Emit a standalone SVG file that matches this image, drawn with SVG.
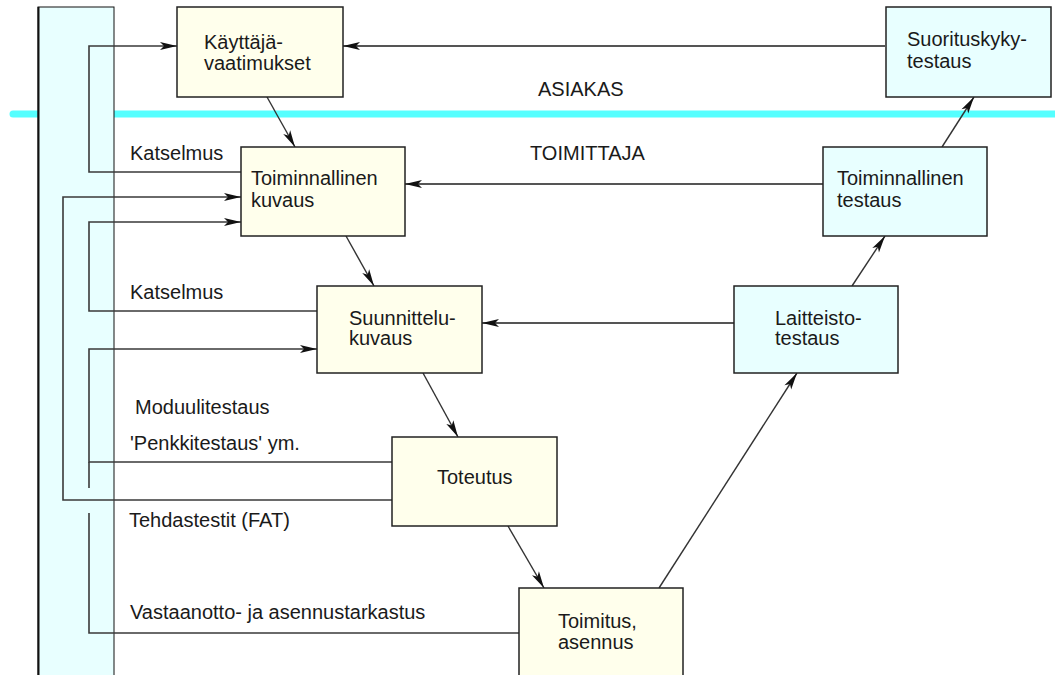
<svg xmlns="http://www.w3.org/2000/svg" width="1055" height="675" viewBox="0 0 1055 675">
  <style>
    text { font-family: "Liberation Sans", Arial, sans-serif; font-size: 20px; fill: #1a1a1a; }
    .dev { fill: #ffffec; stroke: #222; stroke-width: 1.5; }
    .tst { fill: #e8ffff; stroke: #222; stroke-width: 1.5; }
    .ln { fill: none; stroke: #333; stroke-width: 1.4; }
    .hz { fill: none; stroke: #555; stroke-width: 1.8; }
    .fb { fill: none; stroke: #3a3a3a; stroke-width: 1.6; }
  </style>
  <defs>
    <marker id="arr" viewBox="-18 -5 19 10" refX="0" refY="0" markerWidth="19" markerHeight="10" markerUnits="userSpaceOnUse" orient="auto">
      <path d="M0,0 L-17,-4 L-13,0 L-17,4 Z" fill="#111"/>
    </marker>
  </defs>

  <!-- customer / supplier boundary -->
  <line x1="13" y1="114" x2="1060" y2="114" stroke="#55ffff" stroke-width="7" stroke-linecap="round"/>

  <!-- review column -->
  <g id="review-column">
    <rect x="38" y="7" width="76" height="680" fill="#e8ffff" stroke="#111" stroke-width="1"/>
    <line x1="38.5" y1="7" x2="38.5" y2="675" stroke="#111" stroke-width="2"/>
  </g>

  <!-- side labels -->
  <g id="labels">
    <text x="538" y="96">ASIAKAS</text>
    <text x="530" y="160">TOIMITTAJA</text>
    <text x="130" y="160">Katselmus</text>
    <text x="130" y="299">Katselmus</text>
    <text x="135" y="414">Moduulitestaus</text>
    <text x="130" y="450">'Penkkitestaus' ym.</text>
    <text x="129" y="527">Tehdastestit (FAT)</text>
    <text x="130" y="619">Vastaanotto- ja asennustarkastus</text>
  </g>

  <!-- connectors -->
  <g id="connectors">
    <!-- verification flows back to specification -->
    <line class="hz" x1="885" y1="46" x2="343" y2="46" marker-end="url(#arr)"/>
    <line class="hz" x1="823" y1="184" x2="405" y2="184" marker-end="url(#arr)"/>
    <line class="hz" x1="734" y1="323" x2="482" y2="323" marker-end="url(#arr)"/>
    <!-- V model, left branch -->
    <line class="ln" x1="267" y1="97" x2="295" y2="147" marker-end="url(#arr)"/>
    <line class="ln" x1="346" y1="236" x2="374" y2="286" marker-end="url(#arr)"/>
    <line class="ln" x1="423" y1="373" x2="458" y2="437" marker-end="url(#arr)"/>
    <line class="ln" x1="508" y1="526" x2="544" y2="588" marker-end="url(#arr)"/>
    <!-- V model, right branch -->
    <line class="ln" x1="659" y1="588" x2="797" y2="373" marker-end="url(#arr)"/>
    <line class="ln" x1="852" y1="286" x2="885" y2="236" marker-end="url(#arr)"/>
    <line class="ln" x1="942" y1="147" x2="974" y2="97" marker-end="url(#arr)"/>
    <!-- review loops -->
    <path class="fb" d="M241,172 H89 V46 H177" marker-end="url(#arr)"/>
    <path class="fb" d="M392,500 H63 V197 H241" marker-end="url(#arr)"/>
    <path class="fb" d="M317,311 H89 V222 H241" marker-end="url(#arr)"/>
    <path class="fb" d="M392,462 H89 V349 H317" marker-end="url(#arr)"/>
    <path class="fb" d="M89,462 V488"/>
    <path class="fb" d="M89,513 V633 H519"/>
  </g>

  <!-- nodes -->
  <g id="kayttajavaatimukset">
    <rect class="dev" x="177" y="7" width="166" height="90"/>
    <text x="204" y="49">Käyttäjä-</text>
    <text x="204" y="70">vaatimukset</text>
  </g>
  <g id="toiminnallinen-kuvaus">
    <rect class="dev" x="241" y="147" width="164" height="89"/>
    <text x="251" y="185">Toiminnallinen</text>
    <text x="251" y="207">kuvaus</text>
  </g>
  <g id="suunnittelukuvaus">
    <rect class="dev" x="317" y="286" width="165" height="87"/>
    <text x="349" y="325">Suunnittelu-</text>
    <text x="349" y="345">kuvaus</text>
  </g>
  <g id="toteutus">
    <rect class="dev" x="392" y="437" width="165" height="89"/>
    <text x="437" y="484">Toteutus</text>
  </g>
  <g id="toimitus-asennus">
    <rect class="dev" x="519" y="588" width="164" height="100"/>
    <text x="558" y="628">Toimitus,</text>
    <text x="558" y="649">asennus</text>
  </g>
  <g id="laitteistotestaus">
    <rect class="tst" x="734" y="286" width="164" height="87"/>
    <text x="775" y="325">Laitteisto-</text>
    <text x="775" y="345">testaus</text>
  </g>
  <g id="toiminnallinen-testaus">
    <rect class="tst" x="823" y="147" width="164" height="89"/>
    <text x="837" y="185">Toiminnallinen</text>
    <text x="837" y="207">testaus</text>
  </g>
  <g id="suorituskykytestaus">
    <rect class="tst" x="886" y="7" width="165" height="90"/>
    <text x="907" y="46">Suorituskyky-</text>
    <text x="907" y="68">testaus</text>
  </g>
</svg>
